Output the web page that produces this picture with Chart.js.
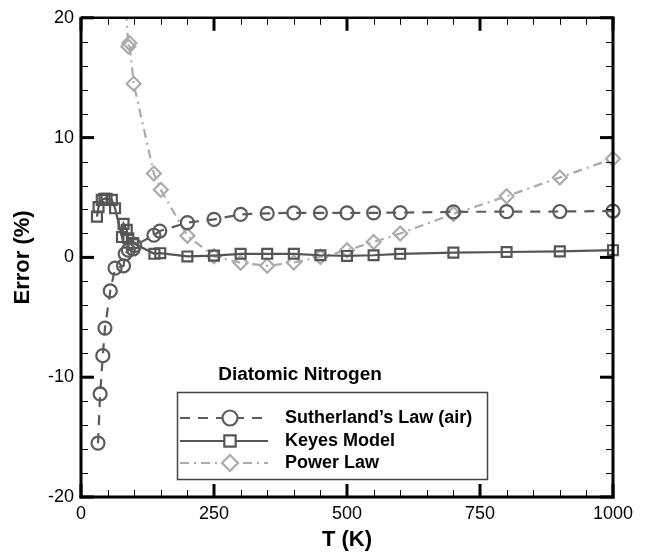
<!DOCTYPE html>
<html><head><meta charset="utf-8">
<script src="https://cdn.jsdelivr.net/npm/chart.js@4/dist/chart.umd.min.js"></script>
<style>html,body{margin:0;padding:0;background:#fff}</style>
</head><body>
<canvas id="c" width="650" height="554"></canvas>
<script>
// ---- data ----
const xTicks = [0, 250, 500, 750, 1000];
const yTicks = [-20, -10, 0, 10, 20];
const chartTitle = 'Diatomic Nitrogen';
const seriesNames = ["Sutherland\u2019s Law (air)", 'Keyes Model', 'Power Law'];

const suthT = [32, 36, 41, 45, 55, 64, 80, 83, 89, 98, 101, 137, 148, 200, 250, 300, 350, 400, 450, 500, 550, 600, 700, 800, 900, 1000];
const suthE = [-15.5, -11.4, -8.2, -5.9, -2.8, -0.9, -0.7, 0.3, 0.6, 0.7, 1.0, 1.85, 2.2, 2.9, 3.17, 3.59, 3.67, 3.72, 3.72, 3.72, 3.72, 3.74, 3.8, 3.82, 3.83, 3.87];

const keyesT = [30, 33, 39, 44, 48, 58, 64, 77, 80, 86, 89, 98, 138, 149, 200, 250, 300, 350, 400, 450, 500, 550, 600, 700, 800, 900, 1000];
const keyesE = [3.4, 4.2, 4.8, 4.9, 4.9, 4.8, 4.1, 1.7, 2.8, 2.3, 1.6, 1.2, 0.3, 0.35, 0.08, 0.15, 0.3, 0.3, 0.3, 0.18, 0.12, 0.18, 0.3, 0.4, 0.45, 0.5, 0.6];

const powT = [80, 89, 91, 99, 137, 150, 200, 250, 300, 350, 400, 450, 500, 550, 600, 700, 800, 900, 1000];
const powE = [24, 17.6, 17.9, 14.5, 7.0, 5.65, 1.8, 0.1, -0.45, -0.7, -0.43, 0.04, 0.6, 1.28, 2.0, 3.63, 5.1, 6.67, 8.24];

const pts = (xs, ys) => xs.map((x, i) => ({x, y: ys[i]}));
const FONT = "'Liberation Sans', Arial, sans-serif";

const dsCommon = {showLine: true, pointBackgroundColor: 'rgba(0,0,0,0)', backgroundColor: 'rgba(0,0,0,0)',
  borderWidth: 2.2, pointBorderWidth: 2.2, clip: {left: 10, right: 10, top: 0, bottom: 0}};

const datasets = [
  Object.assign({}, dsCommon, {label: seriesNames[0], data: pts(suthT, suthE), borderColor: '#5c5c5c', pointBorderColor: '#5c5c5c',
    borderDash: [10, 8], pointStyle: 'circle', pointRadius: 6.5}),
  Object.assign({}, dsCommon, {label: seriesNames[1], data: pts(keyesT, keyesE), borderColor: '#555555', pointBorderColor: '#555555',
    pointStyle: 'rect', pointRadius: 7}),
  Object.assign({}, dsCommon, {label: seriesNames[2], data: pts(powT, powE), borderColor: '#ababab', pointBorderColor: '#ababab',
    borderDash: [9, 5, 2, 5], pointStyle: 'rectRot', pointRadius: 7})
];

const framePlugin = {
  id: 'frame',
  afterDatasetsDraw(chart) {
    const {ctx, chartArea: a, scales: {x, y}} = chart;
    ctx.save();
    ctx.strokeStyle = '#000';
    const seg = (x1, y1, x2, y2) => { ctx.beginPath(); ctx.moveTo(x1, y1); ctx.lineTo(x2, y2); ctx.stroke(); };
    // minor ticks
    ctx.lineWidth = 1;
    for (let v = x.min; v <= x.max; v += 50) {
      if (xTicks.includes(v)) continue;
      const p = Math.round(x.getPixelForValue(v)) + 0.5;
      seg(p, a.bottom, p, a.bottom - 7); seg(p, a.top, p, a.top + 7);
    }
    for (let v = y.min; v <= y.max; v += 2) {
      if (yTicks.includes(v)) continue;
      const p = Math.round(y.getPixelForValue(v)) + 0.5;
      seg(a.left, p, a.left + 7, p); seg(a.right, p, a.right - 7, p);
    }
    // major ticks
    ctx.lineWidth = 3;
    xTicks.forEach(v => { const p = x.getPixelForValue(v); seg(p, a.bottom, p, a.bottom - 13); seg(p, a.top, p, a.top + 13); });
    yTicks.forEach(v => { const p = y.getPixelForValue(v); seg(a.left, p, a.left + 13, p); seg(a.right, p, a.right - 13, p); });
    // frame
    ctx.lineWidth = 3;
    seg(a.left, a.top - 1, a.left, a.bottom + 1.5);
    seg(a.left - 1.5, a.bottom, a.right + 1.5, a.bottom);
    seg(a.right, a.top - 1, a.right, a.bottom + 1.5);
    ctx.lineWidth = 2.5;
    seg(a.left, a.top, a.right + 1.5, a.top);

    // legend
    const bx = 177, by = 392, bw = 310, bh = 87;
    ctx.lineWidth = 1.5;
    ctx.strokeStyle = '#444';
    ctx.strokeRect(bx + 0.5, by + 0.5, bw, bh);
    ctx.fillStyle = '#000';
    ctx.font = 'bold 19px ' + FONT;
    ctx.textAlign = 'center'; ctx.textBaseline = 'middle';
    ctx.fillText(chartTitle, 300, 375);
    const rowY = [418, 441, 463];
    chart.data.datasets.forEach((ds, i) => {
      const yy = rowY[i];
      ctx.strokeStyle = ds.borderColor;
      ctx.lineWidth = ds.borderWidth;
      ctx.setLineDash(ds.borderDash || []);
      ctx.beginPath(); ctx.moveTo(180, yy); ctx.lineTo(268, yy); ctx.stroke();
      ctx.setLineDash([]);
      ctx.fillStyle = '#fff';
      ctx.lineWidth = ds.pointBorderWidth;
      Chart.helpers.drawPoint(ctx, {pointStyle: ds.pointStyle, radius: ds.pointRadius + 1, borderWidth: ds.pointBorderWidth, rotation: 0}, 230, yy);
      ctx.fillStyle = '#000';
      ctx.font = 'bold 18px ' + FONT;
      ctx.textAlign = 'left';
      ctx.fillText(ds.label, 285, yy);
    });
    ctx.restore();
  }
};

new Chart(document.getElementById('c'), {
  type: 'scatter',
  data: {datasets},
  options: {
    responsive: false, animation: false,
    layout: {padding: {top: 14, right: 37, left: 0, bottom: 0}},
    plugins: {legend: {display: false}, tooltip: {enabled: false}},
    scales: {
      x: {type: 'linear', min: xTicks[0], max: xTicks[xTicks.length - 1],
        afterBuildTicks: s => { s.ticks = xTicks.map(v => ({value: v})); },
        afterFit: s => { s.height = 57; },
        grid: {display: false, drawTicks: false, tickLength: 0}, border: {display: false},
        ticks: {font: {size: 18, family: FONT}, color: '#000', padding: 6, maxRotation: 0, autoSkip: false, callback: v => String(v)},
        title: {display: true, text: 'T (K)', font: {size: 22, weight: 'bold', family: FONT}, color: '#000', padding: {top: 0, bottom: 1}}},
      y: {type: 'linear', min: yTicks[0], max: yTicks[yTicks.length - 1],
        afterBuildTicks: s => { s.ticks = yTicks.map(v => ({value: v})); },
        afterFit: s => { s.width = 81; },
        grid: {display: false, drawTicks: false, tickLength: 0}, border: {display: false},
        ticks: {font: {size: 18, family: FONT}, color: '#000', padding: 7, autoSkip: false, callback: v => String(v)},
        title: {display: true, text: 'Error (%)', font: {size: 22, weight: 'bold', family: FONT}, color: '#000', padding: {top: 10, bottom: 0}}}
    }
  },
  plugins: [framePlugin]
});
</script>
</body></html>
